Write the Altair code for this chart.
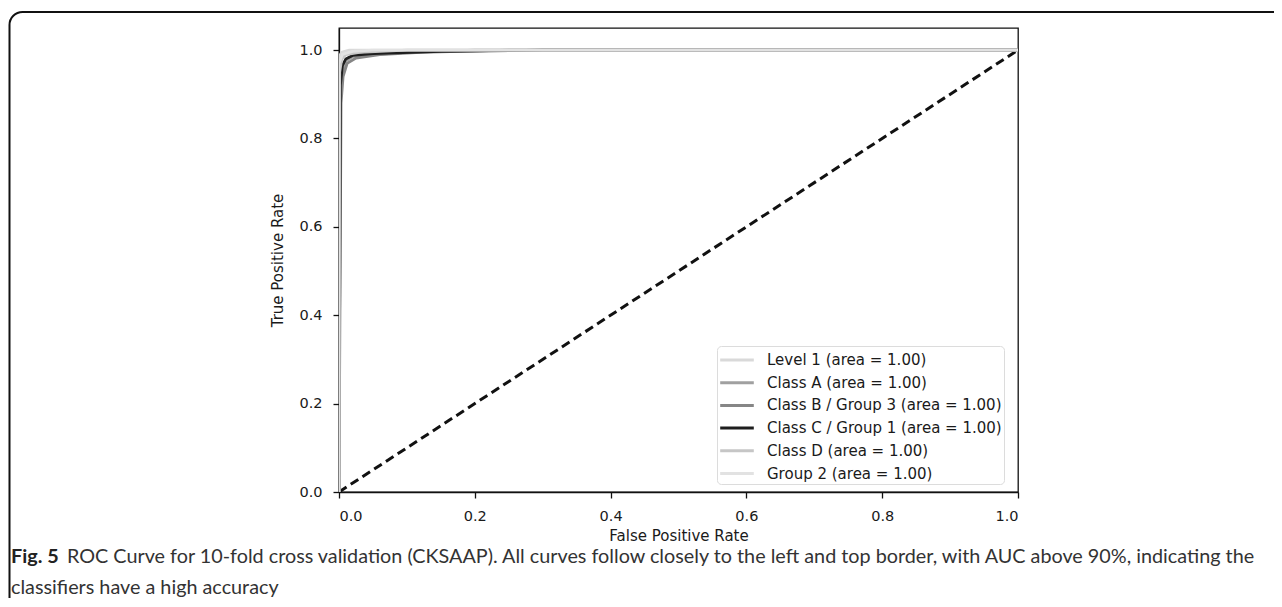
import altair as alt
import pandas as pd

# ---- data ----
series_names = [
    "Level 1 (area = 1.00)",
    "Class A (area = 1.00)",
    "Class B / Group 3 (area = 1.00)",
    "Class C / Group 1 (area = 1.00)",
    "Class D (area = 1.00)",
    "Group 2 (area = 1.00)",
]
series_colors = ["#d9d9d9", "#a0a0a0", "#868686", "#1e1e1e", "#c6c6c6", "#e2e2e2"]

fpr_level1 = [0.0, 0.0, 0.004, 0.015, 1.0]
tpr_level1 = [0.0, 0.985, 0.995, 1.0, 1.0]

fpr_class_a = [0.0, 0.002, 0.005, 0.010, 0.020, 0.050, 0.100, 0.200, 1.0]
tpr_class_a = [0.0, 0.900, 0.950, 0.975, 0.985, 0.990, 0.995, 1.000, 1.0]

fpr_class_b = [0.0, 0.003, 0.006, 0.012, 0.025, 0.060, 0.120, 0.250, 1.0]
tpr_class_b = [0.0, 0.880, 0.940, 0.970, 0.982, 0.990, 0.995, 1.000, 1.0]

fpr_class_c = [0.0, 0.002, 0.005, 0.010, 0.020, 0.050, 0.150, 0.300, 1.0]
tpr_class_c = [0.0, 0.920, 0.965, 0.980, 0.988, 0.992, 0.997, 1.000, 1.0]

fpr_class_d = [0.0, 0.001, 0.004, 0.010, 0.030, 0.100, 1.0]
tpr_class_d = [0.0, 0.950, 0.980, 0.990, 0.995, 1.000, 1.0]

fpr_group2 = [0.0, 0.0, 0.005, 0.020, 0.050, 1.0]
tpr_group2 = [0.0, 0.970, 0.990, 0.997, 1.000, 1.0]

diag_x = [0.0, 1.0]
diag_y = [0.0, 1.0]

x_ticks = [0.0, 0.2, 0.4, 0.6, 0.8, 1.0]
y_ticks = [0.0, 0.2, 0.4, 0.6, 0.8, 1.0]

caption_bold = "Fig. 5"
caption_line1 = ("ROC Curve for 10-fold cross validation (CKSAAP). All curves follow closely "
                 "to the left and top border, with AUC above 90%, indicating the")
caption_line2 = "classifiers have a high accuracy"

# ---- build table ----
all_fpr = [fpr_level1, fpr_class_a, fpr_class_b, fpr_class_c, fpr_class_d, fpr_group2]
all_tpr = [tpr_level1, tpr_class_a, tpr_class_b, tpr_class_c, tpr_class_d, tpr_group2]
rows = []
for k, (name, xs, ys) in enumerate(zip(series_names, all_fpr, all_tpr)):
    for i, (xv, yv) in enumerate(zip(xs, ys)):
        rows.append({"series": name, "fpr": xv, "tpr": yv, "order": i, "k": k})
df = pd.DataFrame(rows)
diag_df = pd.DataFrame({"fpr": diag_x, "tpr": diag_y})
one = pd.DataFrame({"a": [0]})

W, H = 679, 464
PLOT_X, PLOT_Y = 339, 28  # page position of plot origin

xscale = alt.Scale(domain=[0, 1], nice=False, zero=False)
yscale = alt.Scale(domain=[0, 1.05], nice=False, zero=False)

x_axis = alt.Axis(values=x_ticks, format=".1f", title="False Positive Rate", grid=False,
                  tickSize=6, labelPadding=11, titlePadding=6)
y_axis = alt.Axis(values=y_ticks, format=".1f", title="True Positive Rate", grid=False,
                  tickSize=6, labelPadding=11, titlePadding=13)

lines = alt.Chart(df).mark_line(strokeWidth=2.8, clip=True).encode(
    x=alt.X("fpr:Q", scale=xscale, axis=x_axis),
    y=alt.Y("tpr:Q", scale=yscale, axis=y_axis),
    color=alt.Color(
        "series:N",
        scale=alt.Scale(domain=series_names, range=series_colors),
        sort=series_names,
        legend=alt.Legend(
            title=None,
            orient="none",
            legendX=717 - PLOT_X,
            legendY=346 - PLOT_Y,
            symbolType="M-1.6,0L1.6,0",
            symbolStrokeWidth=3,
            symbolSize=441,
            symbolOffset=6,
            labelFont="DejaVu Sans",
            labelFontSize=15,
            labelColor="#1a1a1a",
            labelLimit=400,
            labelOffset=18,
            rowPadding=2.7,
            padding=2,
            fillColor="white",
            strokeColor="#dcdcdc",
            cornerRadius=4,
        ),
    ),
    order=alt.Order("order:Q"),
    detail="k:N",
)

diag = alt.Chart(diag_df).mark_line(
    color="#111111", strokeWidth=3, strokeDash=[9, 5], clip=True
).encode(x=alt.X("fpr:Q", scale=xscale), y=alt.Y("tpr:Q", scale=yscale))

cap_font = "Lato"
cap_size = 19.8
cap_bold = alt.Chart(one).mark_text(
    text=caption_bold, font=cap_font, fontSize=cap_size, fontWeight="bold",
    align="left", baseline="middle", color="#222222"
).encode(x=alt.value(11 - PLOT_X), y=alt.value(557 - PLOT_Y))
cap_l1 = alt.Chart(one).mark_text(
    text=caption_line1, font=cap_font, fontSize=cap_size,
    align="left", baseline="middle", color="#333333"
).encode(x=alt.value(67 - PLOT_X), y=alt.value(557 - PLOT_Y))
cap_l2 = alt.Chart(one).mark_text(
    text=caption_line2, font=cap_font, fontSize=cap_size,
    align="left", baseline="middle", color="#333333"
).encode(x=alt.value(11 - PLOT_X), y=alt.value(588 - PLOT_Y))

frame = alt.Chart(one).mark_rect(
    filled=False, stroke="#111111", strokeWidth=2, cornerRadius=13
).encode(
    x=alt.value(9.5 - PLOT_X), x2=alt.value(1320 - PLOT_X),
    y=alt.value(12 - PLOT_Y), y2=alt.value(650 - PLOT_Y)
)

chart = alt.layer(frame, diag, lines, cap_bold, cap_l1, cap_l2).properties(
    width=W, height=H,
    autosize=alt.AutoSizeParams(type="none"),
    padding={"left": PLOT_X - 8, "top": PLOT_Y - 8, "right": 1266 - (PLOT_X - 8) - W,
             "bottom": 590 - (PLOT_Y - 8) - H},
    background="white",
).configure_view(
    stroke="#111111", strokeWidth=1.3
).configure_axis(
    domainColor="#111111", domainWidth=1.3, tickColor="#111111", tickWidth=1.3,
    labelFont="DejaVu Sans", labelFontSize=14.5, labelColor="#1a1a1a",
    titleFont="DejaVu Sans", titleFontSize=15, titleFontWeight="normal", titleColor="#1a1a1a",
)

chart.save("out.html", embed_options={"renderer": "svg", "actions": False})
